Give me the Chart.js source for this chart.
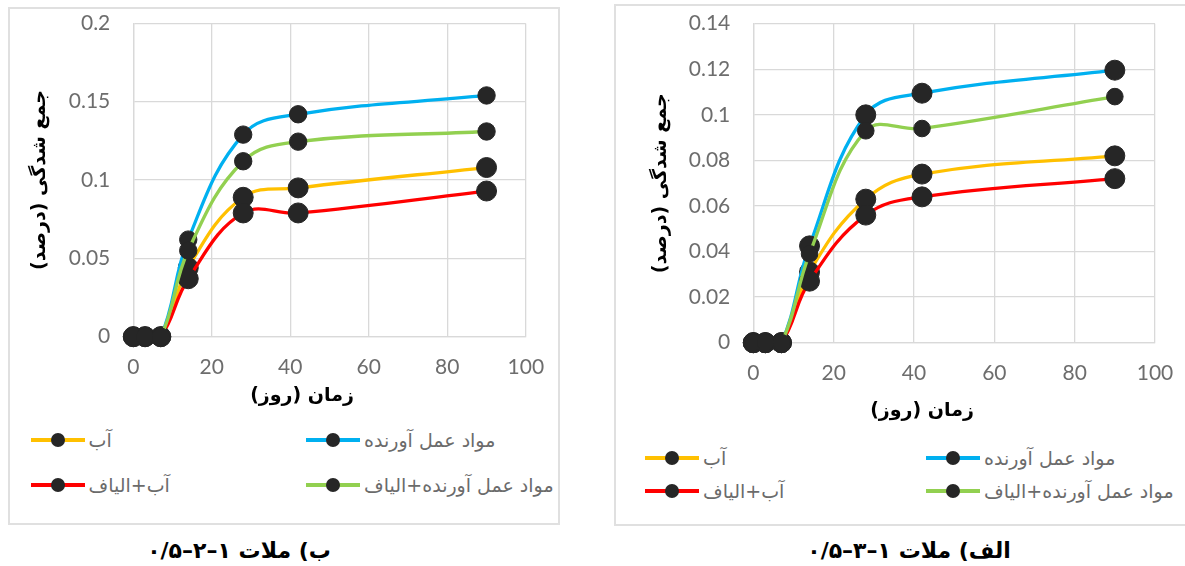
<!DOCTYPE html>
<html>
<head>
<meta charset="utf-8">
<script src="https://cdn.jsdelivr.net/npm/chart.js@4.4.0/dist/chart.umd.min.js"></script>
<style>
  html, body { margin: 0; padding: 0; background: #fff; }
  body { width: 1185px; height: 566px; position: relative; overflow: hidden; }
  .box { position: absolute; border: 2px solid #e0e0e0; box-sizing: border-box; }
  canvas { position: absolute; direction: rtl; }
  .caption { position: absolute; width: 400px; text-align: center; direction: rtl;
             font-family: "DejaVu Sans", sans-serif; font-weight: bold; font-size: 22px;
             line-height: 26px; color: #000; }
  .leg { position: absolute; height: 24px; display: flex; align-items: center; }
  .sym { position: relative; width: 54px; height: 4px; flex: none; }
  .dot { position: absolute; left: 20px; top: -5px; width: 14px; height: 14px; border-radius: 50%; background: #262626; }
  .legtxt { margin-left: 4px; direction: rtl; unicode-bidi: isolate; white-space: nowrap;
            font-family: "DejaVu Sans", sans-serif; font-size: 19px; color: #6b6b6b; }
</style>
</head>
<body>
<div class="box" style="left:8px; top:7px; width:552px; height:518px;"></div>
<div class="box" style="left:614px; top:4px; width:590px; height:522px;"></div>
<canvas id="chartB" width="559" height="420" style="left:0px; top:0px;"></canvas>
<canvas id="chartA" width="570" height="440" style="left:615px; top:0px;"></canvas>
<div id="legendB"></div>
<div id="legendA"></div>
<div class="caption" id="capB" style="left:39px; top:538px;"></div>
<div class="caption" id="capA" style="left:709px; top:538px;"></div>
<script>
// ---------- data ----------
const days = [0, 3, 7, 14, 28, 42, 90];
const seriesNames = ['آب', 'مواد عمل آورنده', 'آب+الیاف', 'مواد عمل آورنده+الیاف'];

// chart ب (mortar 1-2-0.5)
const waterB      = [0, 0, 0, 0.044, 0.089, 0.095, 0.108];
const curingB     = [0, 0, 0, 0.062, 0.129, 0.142, 0.154];
const waterFiberB = [0, 0, 0, 0.037, 0.079, 0.079, 0.093];
const curingFiberB= [0, 0, 0, 0.055, 0.112, 0.1245, 0.131];

// chart الف (mortar 1-3-0.5)
const waterA      = [0, 0, 0, 0.031, 0.063, 0.074, 0.082];
const curingA     = [0, 0, 0, 0.0425, 0.100, 0.1095, 0.1196];
const waterFiberA = [0, 0, 0, 0.027, 0.056, 0.064, 0.072];
const curingFiberA= [0, 0, 0, 0.039, 0.093, 0.094, 0.108];

const xTickLabels  = ['0', '20', '40', '60', '80', '100'];
const yTickLabelsB = ['0', '0.05', '0.1', '0.15', '0.2'];
const yTickLabelsA = ['0', '0.02', '0.04', '0.06', '0.08', '0.1', '0.12', '0.14'];

const xAxisTitle = 'زمان (روز)';
const yAxisTitle = 'جمع شدگی (درصد)';
const captionB = 'ب) ملات ۱–۲–۰/۵';
const captionA = 'الف) ملات ۱–۳–۰/۵';

// ---------- styles ----------
const lineColors = ['#FFC000', '#00B0F0', '#FF0000', '#92D050'];
const markerColor = '#262626';
const tickFont = { family: 'Lato, "Liberation Sans", sans-serif', size: 21 };
const titleFont = { family: '"DejaVu Sans", sans-serif', size: 19, weight: 'bold' };
const gridColor = '#d9d9d9';

const xTitlePlugin = {
  id: 'xTitle',
  afterDraw(chart, args, opts) {
    const ctx = chart.ctx;
    ctx.save();
    ctx.font = 'bold ' + titleFont.size + 'px ' + titleFont.family;
    ctx.fillStyle = '#000';
    ctx.textAlign = 'center';
    ctx.textBaseline = 'middle';
    ctx.direction = 'rtl';
    ctx.fillText(opts.text, opts.x, opts.y);
    ctx.restore();
  }
};

function makeChart(id, seriesList, radii, yMax, yStep, yLabels, geo) {
  const datasets = seriesList.map((vals, i) => ({
    label: seriesNames[i],
    data: days.map((d, k) => ({ x: d, y: vals[k] })),
    borderColor: lineColors[i],
    backgroundColor: lineColors[i],
    borderWidth: 3.3,
    tension: 0.4,
    pointRadius: radii[i],
    pointHoverRadius: radii[i],
    pointBackgroundColor: markerColor,
    pointBorderColor: markerColor,
    pointBorderWidth: 1,
    clip: false,
    order: 4 - i
  }));
  const cv = document.getElementById(id);
  const dims = { top: geo.area.top, right: cv.width - geo.area.right,
                 xh: cv.height - geo.area.bottom, yw: geo.area.left };
  const chart = new Chart(cv, {
    type: 'line',
    data: { datasets },
    plugins: [xTitlePlugin],
    options: {
      responsive: false,
      animation: false,
      events: [],
      layout: { autoPadding: false, padding: { left: 0, top: dims.top, right: dims.right, bottom: 0 } },
      plugins: {
        legend: { display: false },
        tooltip: { enabled: false },
        xTitle: { text: xAxisTitle, x: geo.xtx, y: geo.xty }
      },
      scales: {
        x: {
          type: 'linear', min: 0, max: 100,
          ticks: { stepSize: 20, padding: 0, color: '#6d6d6d', font: tickFont,
                   maxRotation: 0, autoSkip: false,
                   callback: (v, i) => xTickLabels[i] !== undefined ? xTickLabels[i] : v },
          grid: { color: gridColor, lineWidth: 1.3, drawTicks: true, tickLength: 18,
                  tickColor: 'rgba(0,0,0,0)' },
          border: { color: gridColor, width: 1.3 },
          afterFit: (s) => { s.height = dims.xh; }
        },
        y: {
          type: 'linear', min: 0, max: yMax,
          ticks: { stepSize: yStep, padding: 0, color: '#6d6d6d', font: tickFont,
                   callback: (v, i) => yLabels[i] !== undefined ? yLabels[i] : v },
          grid: { color: gridColor, lineWidth: 1.3, drawTicks: true, tickLength: 23,
                  tickColor: 'rgba(0,0,0,0)' },
          border: { color: gridColor, width: 1.3 },
          title: { display: true, text: yAxisTitle, color: '#000', font: titleFont,
                   padding: { top: geo.ytp, bottom: 0 } },
          afterFit: (s) => { s.width = dims.yw; }
        }
      }
    }
  });
  // nudge the layout so the plot area lands where the reference has it
  for (let k = 0; k < 4; k++) {
    const a = chart.chartArea;
    const dt = geo.area.top - a.top, dl = geo.area.left - a.left;
    const dr = a.right - geo.area.right, db = a.bottom - geo.area.bottom;
    if (Math.abs(dt) + Math.abs(dl) + Math.abs(dr) + Math.abs(db) < 0.3) break;
    dims.top += dt; dims.yw += dl; dims.right += dr; dims.xh += db;
    chart.options.layout.padding = { left: 0, top: dims.top, right: dims.right, bottom: 0 };
    chart.update();
  }
  return chart;
}

const chartB = makeChart('chartB',
  [waterB, curingB, waterFiberB, curingFiberB], [10, 8.7, 10, 8.7],
  0.2, 0.05, yTickLabelsB,
  { area: { left: 133.3, top: 23.4, right: 525.8, bottom: 336.7 }, ytp: 29, xtx: 302, xty: 396 });

const chartA = makeChart('chartA',
  [waterA, curingA, waterFiberA, curingFiberA], [10, 10, 10, 8.3],
  0.14, 0.02, yTickLabelsA,
  { area: { left: 138.3, top: 23.7, right: 540, bottom: 342.7 }, ytp: 35, xtx: 307, xty: 411 });

// ---------- legends (HTML, built from the chart datasets) ----------
function buildLegend(chart, containerId, colX, rowY) {
  const host = document.getElementById(containerId);
  chart.data.datasets.forEach((ds, i) => {
    const item = document.createElement('div');
    item.className = 'leg';
    item.style.left = colX[i % 2] + 'px';
    item.style.top = (rowY[Math.floor(i / 2)] - 12) + 'px';
    const sym = document.createElement('div');
    sym.className = 'sym';
    sym.style.background = ds.borderColor;
    const dot = document.createElement('div');
    dot.className = 'dot';
    sym.appendChild(dot);
    const txt = document.createElement('span');
    txt.className = 'legtxt';
    txt.textContent = ds.label;
    item.appendChild(sym);
    item.appendChild(txt);
    host.appendChild(item);
  });
}
buildLegend(chartB, 'legendB', [30.5, 306], [440, 485]);
buildLegend(chartA, 'legendA', [645, 926], [458, 491]);

document.getElementById('capB').textContent = captionB;
document.getElementById('capA').textContent = captionA;
</script>
</body>
</html>
